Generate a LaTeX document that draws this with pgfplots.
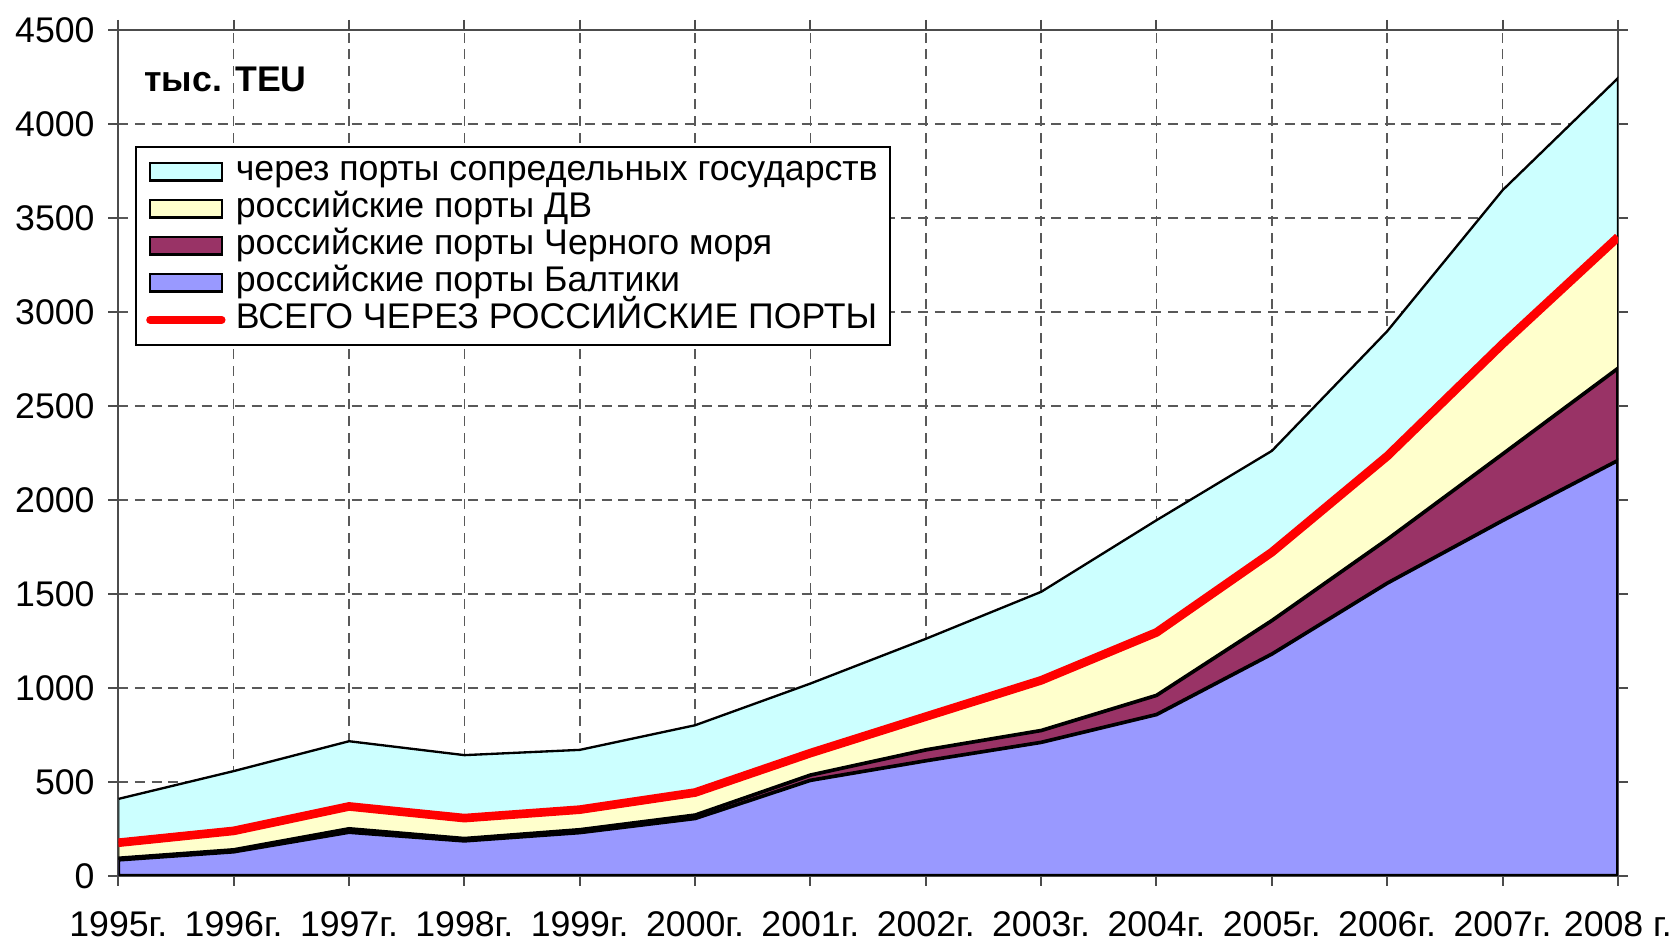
\documentclass[border=0pt]{standalone}
\usepackage{fontspec}
\setmainfont{Liberation Sans}
\usepackage{pgfplots}
\usepackage{pgfplotstable}
\pgfplotsset{compat=1.18}
\definecolor{cNeigh}{HTML}{CCFFFF}
\definecolor{cDV}{HTML}{FFFFCC}
\definecolor{cBlack}{HTML}{993366}
\definecolor{cBalt}{HTML}{9999FF}
\pgfplotstableread{
year balt bs rus all
1995 85 93 176 409
1996 128 138 239 557
1997 232 250 369 716
1998 186 198 307 642
1999 230 245 352 670
2000 305 323 443 801
2001 508 536 653 1023
2002 612 670 847 1261
2003 710 773 1040 1511
2004 858 960 1295 1892
2005 1180 1358 1722 2261
2006 1557 1790 2233 2898
2007 1890 2244 2830 3648
2008 2210 2700 3398 4244
}\data
\begin{document}
\begin{tikzpicture}
\begin{axis}[
  scale only axis,
  width=450pt, height=253.8pt,
  xmin=1995, xmax=2008, ymin=0, ymax=4500,
  xtick={1995,...,2008},
  xticklabels={1995г.,1996г.,1997г.,1998г.,1999г.,2000г.,2001г.,2002г.,2003г.,2004г.,2005г.,2006г.,2007г.,2008 г.},
  ytick={0,500,...,4500},
  /pgf/number format/1000 sep={},
  /pgf/number format/assume math mode=true,
  tick label style={font=\fontsize{10.7}{12}\selectfont},
  yticklabel style={xshift=-0.6pt},
  xticklabel style={inner sep=0pt, text depth=0pt, anchor=north, yshift=-7.4pt},
  tick align=outside,
  major tick length=3pt,
  tick style={black!70, line width=0.6pt},
  axis line style={black!70, line width=0.7pt},
  grid=major,
  major grid style={black!65, line width=0.5pt, dash pattern=on 3pt off 2pt},
  legend style={
    at={(axis description cs:0.0114,0.863)}, anchor=north west,
    draw=black, line width=0.5pt, fill=white,
    font=\fontsize{10.7}{11}\selectfont,
    inner xsep=3pt, inner ysep=2pt,
    row sep=0pt, column sep=2.5pt,
    nodes={inner sep=0.6pt, text height=7.6pt, text depth=2.3pt},
  },
  legend cell align=left,
]
\addplot[fill=cNeigh, draw=black, line width=0.7pt,
  legend image code/.code={\draw[fill=cNeigh,draw=black,line width=0.7pt] (0pt,-2.6pt) rectangle (21.5pt,2.6pt);}]
  table[x=year,y=all]{\data} \closedcycle;
\addlegendentry{через порты сопредельных государств}
\addplot[fill=cDV, draw=black, line width=0.6pt,
  legend image code/.code={\draw[fill=cDV,draw=black,line width=0.7pt] (0pt,-2.6pt) rectangle (21.5pt,2.6pt);}]
  table[x=year,y=rus]{\data} \closedcycle;
\addlegendentry{российские порты ДВ}
\addplot[fill=cBlack, draw=black, line width=1.1pt,
  legend image code/.code={\draw[fill=cBlack,draw=black,line width=0.7pt] (0pt,-2.6pt) rectangle (21.5pt,2.6pt);}]
  table[x=year,y=bs]{\data} \closedcycle;
\addlegendentry{российские порты Черного моря}
\addplot[fill=cBalt, draw=black, line width=1.1pt,
  legend image code/.code={\draw[fill=cBalt,draw=black,line width=0.7pt] (0pt,-2.6pt) rectangle (21.5pt,2.6pt);}]
  table[x=year,y=balt]{\data} \closedcycle;
\addlegendentry{российские порты Балтики}
\addplot[red, line width=2.6pt, line join=round,
  legend image code/.code={\draw[red,line width=2.3pt,line cap=round] (0pt,0pt) -- (21.5pt,0pt);}]
  table[x=year,y=rus]{\data};
\addlegendentry{ВСЕГО ЧЕРЕЗ РОССИЙСКИЕ ПОРТЫ}
\node[anchor=west, inner sep=0pt, font=\bfseries\fontsize{10.7}{12}\selectfont] at (axis description cs:0.017,0.941) {тыс. TEU};
\end{axis}
\path ([xshift=-35.5pt,yshift=-19.4pt]current axis.south west) rectangle ([xshift=17.1pt,yshift=9pt]current axis.north east);
\end{tikzpicture}
\end{document}
